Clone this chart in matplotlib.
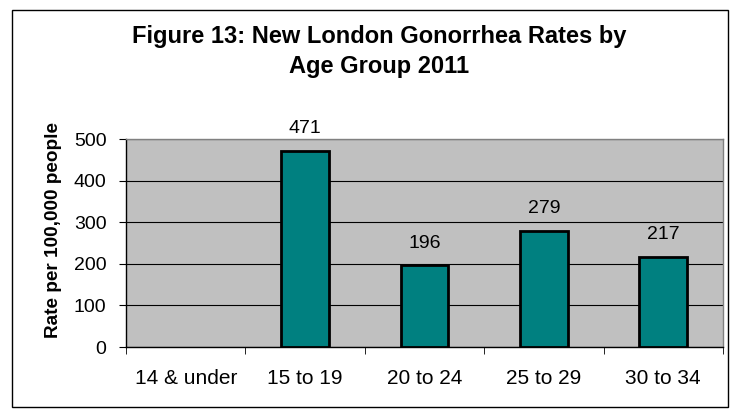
import matplotlib
matplotlib.use("Agg")
import matplotlib.pyplot as plt
from matplotlib.patches import Rectangle

categories = ["14 & under", "15 to 19", "20 to 24", "25 to 29", "30 to 34"]
values = [None, 471, 196, 279, 217]
yticks = [0, 100, 200, 300, 400, 500]
title_lines = ["Figure 13: New London Gonorrhea Rates by", "Age Group 2011"]
ylabel = "Rate per 100,000 people"

plt.rcParams['font.family'] = ['Liberation Sans', 'DejaVu Sans']

fig = plt.figure(figsize=(7.42, 4.15), dpi=100)
fig.patch.set_facecolor('white')
W, H = 742, 415
ax = fig.add_axes([126 / W, 1 - 347 / H, (723 - 126) / W, (347 - 139) / H])
ax.set_facecolor('#C0C0C0')

xs = list(range(len(categories)))
for x, v in zip(xs, values):
    if v is None:
        continue
    ax.bar(x, v, width=0.40, color='#008080', edgecolor='black', linewidth=2, zorder=3)
    ax.annotate(str(v), (x, v), xytext=(0, 10), textcoords='offset points',
                ha='center', va='bottom', fontsize=14, annotation_clip=False)

ax.set_xlim(-0.5, len(categories) - 0.5)
ax.set_ylim(0, 500)
ax.set_yticks(yticks)
ax.set_yticklabels([str(t) for t in yticks], fontsize=14)
ax.set_xticks(xs)
ax.set_xticklabels(categories, fontsize=15)
ax.set_xticks([i - 0.5 for i in range(len(categories) + 1)], minor=True)
ax.tick_params(axis='x', which='major', length=0, pad=16)
ax.tick_params(axis='x', which='minor', length=5, direction='out', color='black')
ax.tick_params(axis='y', length=5, direction='out', pad=9)
ax.yaxis.grid(True, color='black', linewidth=0.8, zorder=1)
ax.set_axisbelow(True)
for s in ['top', 'right']:
    ax.spines[s].set_color('#808080')
    ax.spines[s].set_linewidth(1)
for s in ['left', 'bottom']:
    ax.spines[s].set_color('black')
    ax.spines[s].set_linewidth(1)
ax.set_ylabel(ylabel, fontsize=13.7, fontweight='bold')
ax.yaxis.set_label_coords(62 / W, 1 - 230 / H, transform=fig.transFigure)

for line, base in zip(title_lines, [43, 73]):
    fig.text(379 / W, 1 - base / H, line, ha='center', va='baseline',
             fontsize=17, fontweight='bold')

fig.patches.append(Rectangle((12 / W, 8 / H), (728 - 12) / W, (405 - 8) / H,
                             transform=fig.transFigure, fill=False,
                             edgecolor='black', linewidth=1))

fig.savefig('out.png', dpi=100)
